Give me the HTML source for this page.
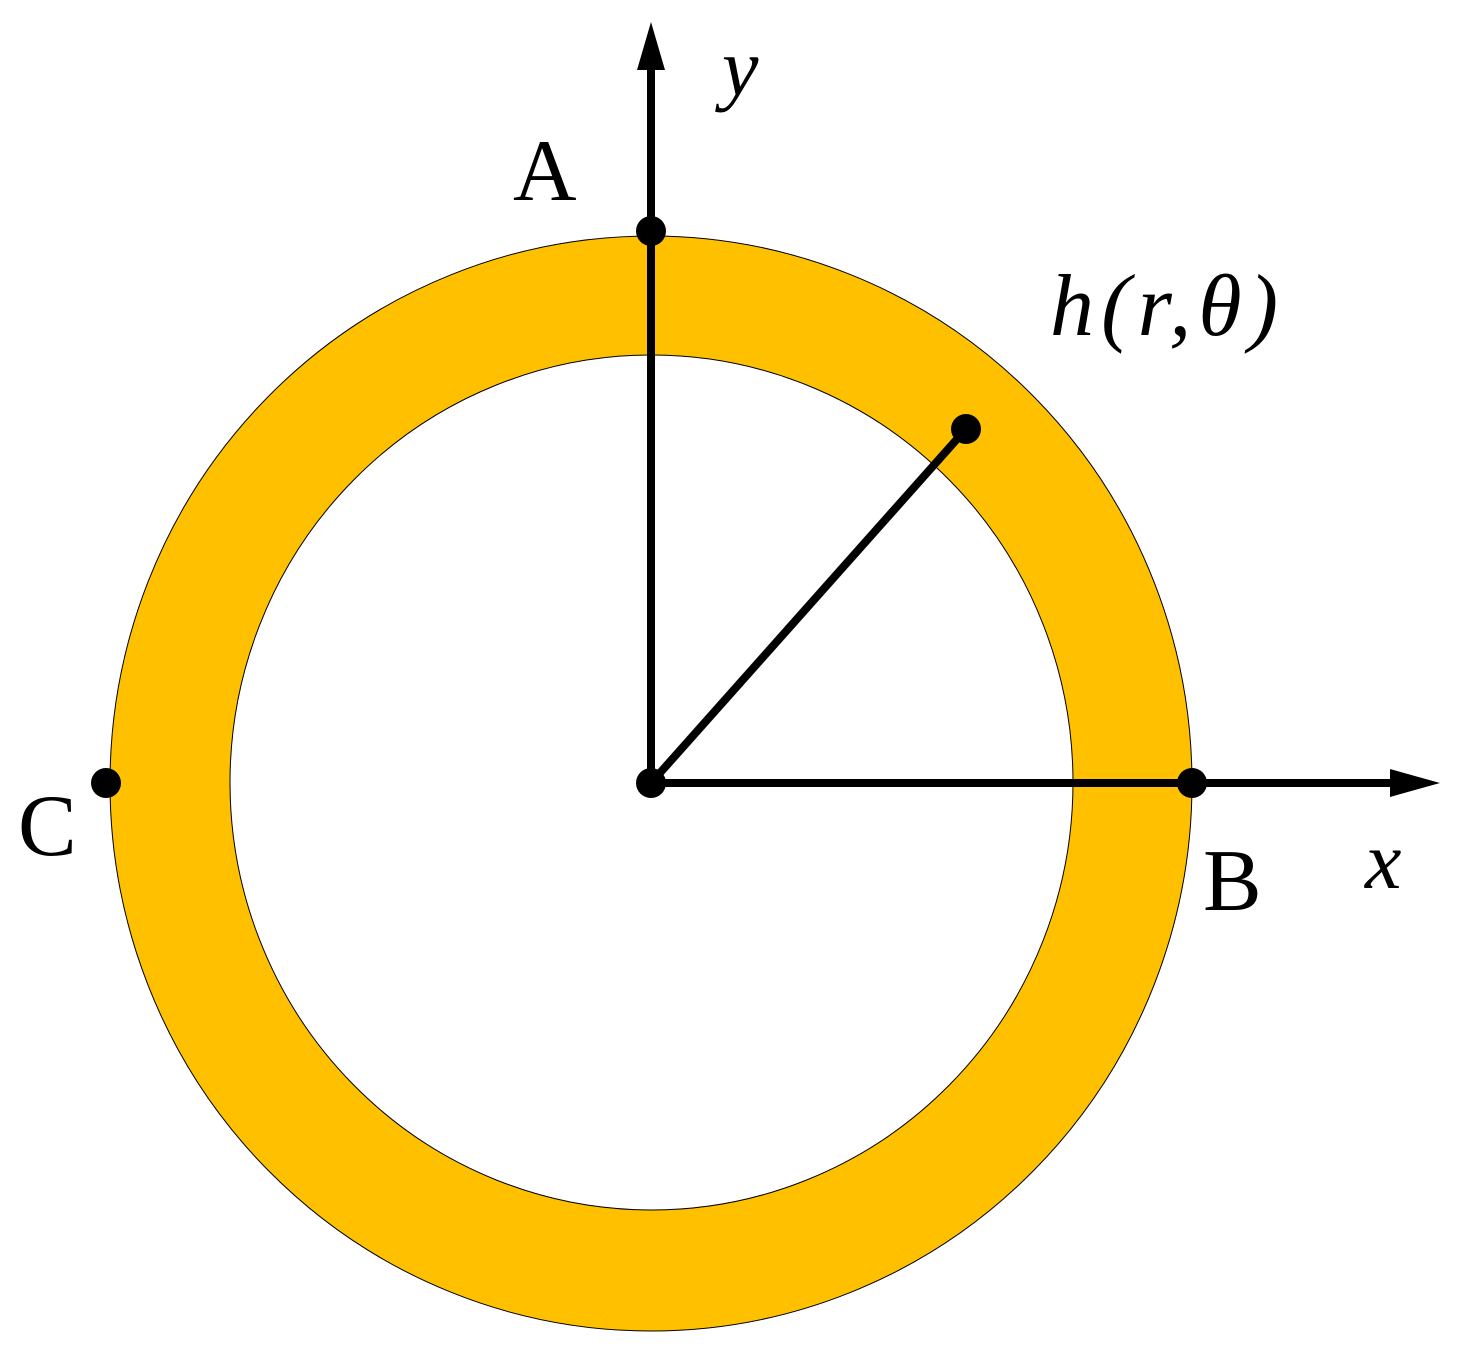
<!DOCTYPE html>
<html><head><meta charset="utf-8"><style>html,body{margin:0;padding:0;background:#fff}svg{display:block}
text{font-family:"Liberation Serif","Times New Roman",Times,serif}</style></head><body>
<svg width="1462" height="1353" viewBox="0 0 1462 1353" xmlns="http://www.w3.org/2000/svg">
<ellipse cx="651" cy="783.5" rx="541" ry="547.5" fill="#FFC000" stroke="#000" stroke-width="1"/>
<ellipse cx="651.5" cy="782.5" rx="421.5" ry="427.5" fill="#fff" stroke="#000" stroke-width="1"/>
<line x1="651" y1="783" x2="651" y2="65" stroke="#000" stroke-width="8"/>
<polygon points="651,22 637,70 665,70" fill="#000"/>
<line x1="651" y1="783" x2="1395" y2="783" stroke="#000" stroke-width="8"/>
<polygon points="1440,783 1390,769 1390,797" fill="#000"/>
<line x1="651" y1="783" x2="966" y2="429" stroke="#000" stroke-width="8"/>
<g fill="#000">
<circle cx="651" cy="231" r="15"/>
<circle cx="1192" cy="783" r="15"/>
<circle cx="106" cy="783" r="15"/>
<circle cx="651" cy="783" r="15"/>
<circle cx="966" cy="429" r="15"/>
</g>
<g fill="#000" font-family="'Liberation Serif','Times New Roman',Times,serif">
<text x="722" y="95" font-size="82" font-style="italic">y</text>
<text x="513" y="200" font-size="88">A</text>
<text x="1050" y="335" font-size="88" font-style="italic" textLength="228" lengthAdjust="spacing">h(r,θ)</text>
<text x="18" y="855" font-size="88">C</text>
<text x="1203" y="910" font-size="88">B</text>
<text x="1365" y="888" font-size="82" font-style="italic">x</text>
</g>
</svg>
</body></html>
